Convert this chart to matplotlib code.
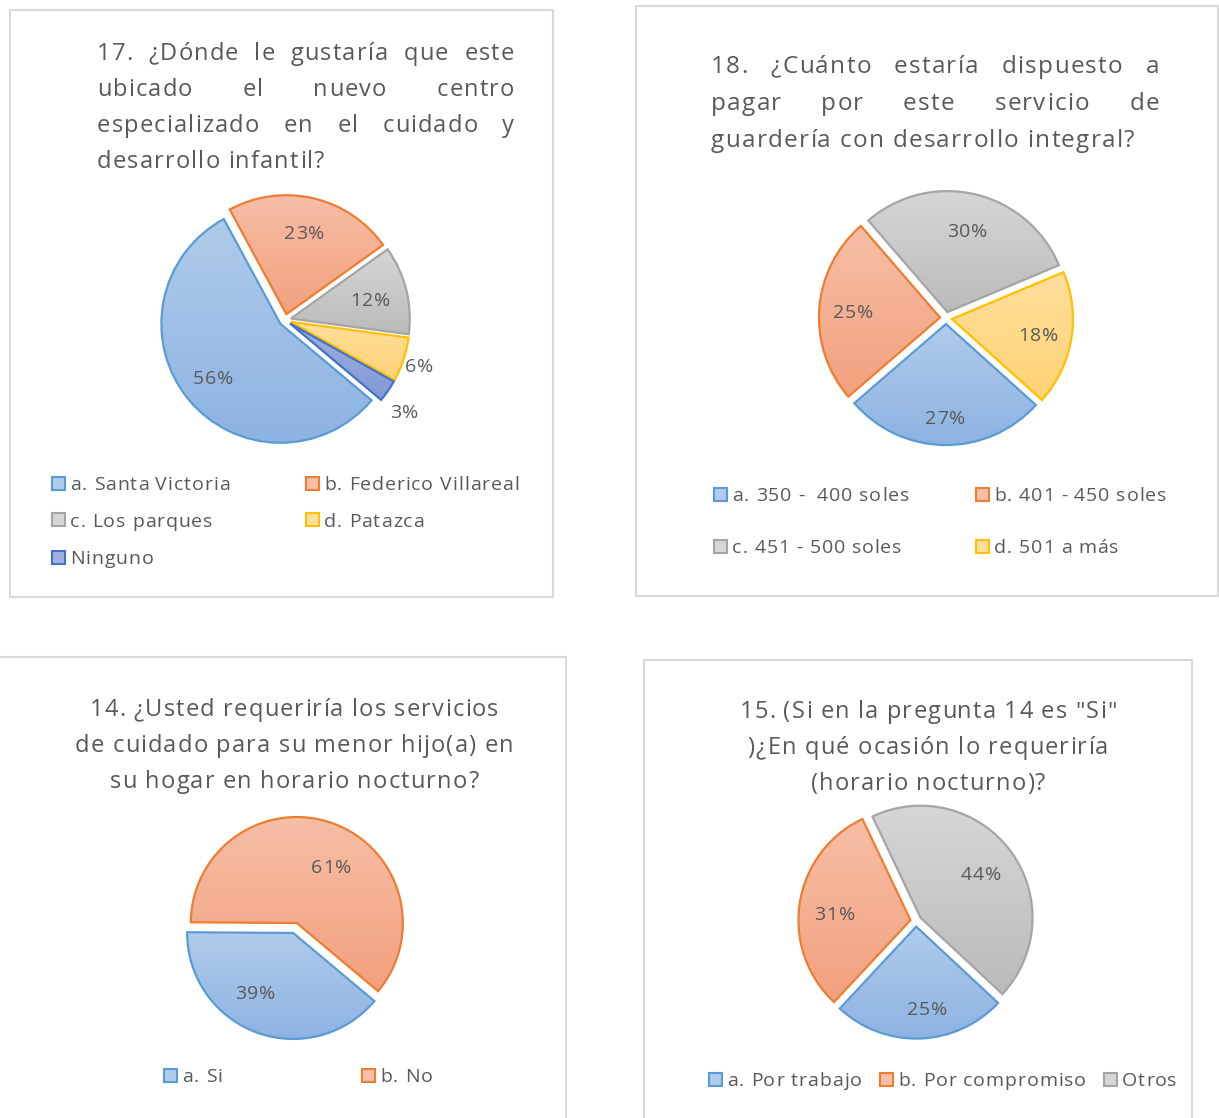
import numpy as np
import matplotlib
matplotlib.use("Agg")
import matplotlib.pyplot as plt
from matplotlib.patches import Rectangle
from matplotlib.colors import to_rgb
from matplotlib import font_manager
from matplotlib.font_manager import FontProperties
from matplotlib.ft2font import FT2Font

# ---------------- data ----------------
p1_title = ["17. ¿Dónde le gustaría que este", "ubicado el nuevo centro",
            "especializado en el cuidado y", "desarrollo infantil?"]
p1_labels = ["a. Santa Victoria", "b. Federico Villareal", "c. Los parques", "d. Patazca", "Ninguno"]
p1_values = [56, 23, 12, 6, 3]

p2_title = ["18. ¿Cuánto estaría dispuesto a", "pagar por este servicio de",
            "guardería con desarrollo integral?"]
p2_labels = ["a. 350 -  400 soles", "b. 401 - 450 soles", "c. 451 - 500 soles", "d. 501 a más"]
p2_values = [27, 25, 30, 18]

p3_title = ["14. ¿Usted requeriría los servicios", "de cuidado para su menor hijo(a) en",
            "su hogar en horario nocturno?"]
p3_labels = ["a. Si", "b. No"]
p3_values = [39, 61]

p4_title = ['15. (Si en la pregunta 14 es "Si"', ')¿En qué ocasión lo requeriría', '(horario nocturno)?']
p4_labels = ["a. Por trabajo", "b. Por compromiso", "Otros"]
p4_values = [25, 31, 44]

# ---------------- style ----------------
W, H = 1219, 1118
DPI = 100
FONT = "Open Sans"
TXT = "#595959"
EDGE = ["#5B9BD5", "#ED7D31", "#A5A5A5", "#FFC000", "#4472C4"]
TOP = ["#B0CBEB", "#F6BEA6", "#D6D6D6", "#FFDF9C", "#9EB1E2"]
BOT = ["#8DB3E2", "#F3A17E", "#BBBBBB", "#FFD275", "#8298D6"]
TSIZE = 17
LSIZE = 14
TTRACK = 1.2
LTRACK = 0.9

FONT_PATH = font_manager.findfont(FontProperties(family=FONT))
_fonts = {}


def advances(s, size):
    if size not in _fonts:
        f = FT2Font(FONT_PATH)
        f.set_size(size, DPI)
        _fonts[size] = f
    f = _fonts[size]
    return [f.load_char(ord(c)).linearHoriAdvance / 65536.0 for c in s]


def width(s, size, track):
    return sum(advances(s, size)) + track * (len(s) - 1)


fig = plt.figure(figsize=(W / DPI, H / DPI), dpi=DPI)
fig.patch.set_facecolor("white")


def fx(x):
    return x / W


def fy(y):
    return 1 - y / H


def tracked(x, yc, s, size, track, ha="left"):
    """Draw text s with extra letter spacing; yc = vertical centre (px, from top)."""
    em = size * DPI / 72.0
    base = yc + 0.36 * em
    if ha == "center":
        x = x - width(s, size, track) / 2
    p = x
    for c, adv in zip(s, advances(s, size)):
        if c != " ":
            fig.text(fx(p), fy(base), c, ha="left", va="baseline",
                     fontsize=size, color=TXT, family=FONT)
        p += adv + track


def justified(lines, left, right, y0, dy, size=TSIZE, track=TTRACK):
    for i, line in enumerate(lines):
        y = y0 + i * dy
        words = line.split(" ")
        if i == len(lines) - 1 or len(words) == 1:
            tracked(left, y, line, size, track)
            continue
        widths = [width(w, size, track) for w in words]
        gap = (right - left - sum(widths)) / (len(words) - 1)
        x = left
        for w, ww in zip(words, widths):
            tracked(x, y, w, size, track)
            x += ww + gap


def centered(lines, cx, y0, dy, size=TSIZE, track=TTRACK):
    for i, line in enumerate(lines):
        tracked(cx, y0 + i * dy, line, size, track, ha="center")


def panel(x0, y0, x1, y1):
    fig.patches.append(Rectangle((fx(x0), fy(y1)), fx(x1) - fx(x0), fy(y0) - fy(y1),
                                 transform=fig.transFigure, fill=False,
                                 edgecolor="#D9D9D9", linewidth=1.5, zorder=0))


def pie(values, cx, cy, R, start_cw, lab_style, explode=0.05):
    L = 1.45
    ax = fig.add_axes([fx(cx - R * L), fy(cy + R * L), 2 * R * L / W, 2 * R * L / H])
    ax.set_xlim(-L, L)
    ax.set_ylim(-L, L)
    ax.axis("off")
    n = len(values)
    wedges, _ = ax.pie(values, startangle=90 - start_cw, counterclock=False,
                       explode=[explode] * n, radius=1,
                       wedgeprops=dict(linewidth=1.6))
    ax.set_xlim(-L, L)
    ax.set_ylim(-L, L)
    for i, w in enumerate(wedges):
        w.set_facecolor("none")
        w.set_edgecolor(EDGE[i])
        w.set_zorder(3)
        ext = w.get_path().get_extents()
        t = np.linspace(0, 1, 64).reshape(-1, 1, 1)
        grad = (1 - t) * np.array(to_rgb(TOP[i])) + t * np.array(to_rgb(BOT[i]))
        im = ax.imshow(grad, extent=[ext.x0, ext.x1, ext.y0, ext.y1], origin="upper",
                       aspect="auto", interpolation="bilinear", zorder=2)
        im.set_clip_path(w)
        mid = (w.theta1 + w.theta2) / 2
        d, off = lab_style[i]
        a = np.deg2rad(mid - off)
        px, py = ax.transData.transform((d * np.cos(a), d * np.sin(a)))
        tracked(px, H - py, f"{values[i]}%", LSIZE, LTRACK, ha="center")
    return ax


def legend(entries, positions, size=LSIZE):
    for i, (lab, (x, y)) in enumerate(zip(entries, positions)):
        fig.patches.append(Rectangle((fx(x), fy(y + 6.5)), 13 / W, 13 / H,
                                     transform=fig.transFigure,
                                     facecolor=TOP[i], edgecolor=EDGE[i], linewidth=1.5))
        tracked(x + 18, y, lab, size, LTRACK)


# ---------------- panels ----------------
panel(10, 10, 553, 597)
panel(636, 6, 1218, 596)
panel(-5, 657, 566, 1125)
panel(644, 660, 1192, 1125)

# Panel 1
justified(p1_title, 97, 514, 51, 36)
pie(p1_values, 285, 320, 119, 130,
    [(0.77, 1), (0.76, -1), (0.74, 0), (1.19, 0), (1.26, 3)])
legend(p1_labels, [(52, 483), (306, 483), (52, 520), (306, 520), (52, 557)])

# Panel 2
justified(p2_title, 711, 1159, 64, 37, size=17.5, track=1.3)
pie(p2_values, 946, 318, 121, 132,
    [(0.82, 0), (0.77, 0), (0.75, 0), (0.77, 0)])
legend(p2_labels, [(714, 494), (976, 494), (714, 546), (976, 546)])

# Panel 3
centered(p3_title, 294, 708, 35.5)
pie(p3_values, 295, 928, 106, 130,
    [(0.71, 12), (0.68, 10)])
legend(p3_labels, [(164, 1075), (362, 1075)])

# Panel 4
centered(p4_title, 928, 710, 35.5)
pie(p4_values, 916, 921, 112, 133,
    [(0.78, -5), (0.73, -3), (0.72, 0)])
legend(p4_labels, [(709, 1079), (880, 1079), (1104, 1079)])

fig.savefig("out.png", dpi=DPI, facecolor="white")
